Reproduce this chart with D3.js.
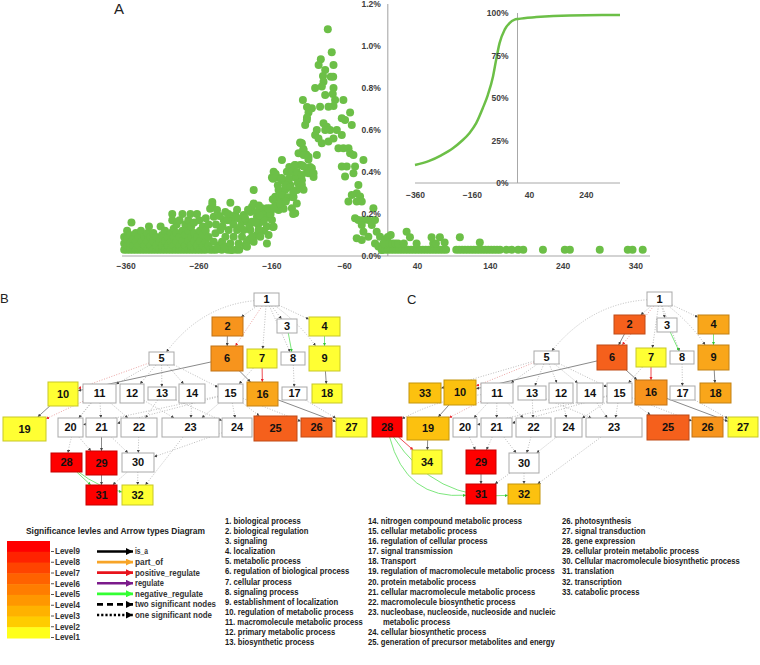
<!DOCTYPE html>
<html><head><meta charset="utf-8">
<script src="https://cdn.jsdelivr.net/npm/d3@7"></script>
<style>body{margin:0;background:#fff}svg{display:block}</style>
</head><body>
<svg id="fig" width="760" height="665"></svg>
<script>
// ---------------- DATA ----------------
const densityPoints = [
[-362,0.03],[-362,0.06],[-362,0.09],[-358,0.03],[-358,0.05],[-358,0.08],[-358,0.12],[-354,0.03],[-354,0.06],[-354,0.10],[-352,0.16],[-350,0.03],[-350,0.05],[-350,0.08],[-346,0.03],[-346,0.07],[-346,0.11],[-342,0.03],[-342,0.05],[-342,0.09],[-339,0.12],[-338,0.03],[-338,0.07],[-334,0.03],[-334,0.05],[-334,0.09],[-330,0.03],[-330,0.07],[-330,0.11],[-328,0.14],[-326,0.03],[-326,0.05],[-326,0.09],[-322,0.03],[-322,0.07],[-322,0.11],[-318,0.03],[-318,0.05],[-318,0.09],[-314,0.03],[-314,0.07],[-312,0.14],[-310,0.03],[-310,0.05],[-310,0.10],[-306,0.03],[-306,0.07],[-306,0.12],[-302,0.03],[-302,0.05],[-302,0.09],[-298,0.03],[-298,0.07],[-298,0.11],[-296,0.17],[-296,0.20],[-294,0.03],[-294,0.05],[-294,0.09],[-294,0.13],[-290,0.03],[-290,0.07],[-290,0.11],[-290,0.15],[-286,0.03],[-286,0.05],[-286,0.09],[-286,0.17],[-282,0.03],[-282,0.07],[-282,0.12],[-282,0.20],[-278,0.03],[-278,0.05],[-278,0.10],[-278,0.15],[-274,0.03],[-274,0.07],[-274,0.12],[-274,0.17],[-271,0.20],[-270,0.03],[-270,0.05],[-270,0.09],[-270,0.14],[-266,0.03],[-266,0.07],[-266,0.11],[-266,0.16],[-262,0.03],[-262,0.05],[-262,0.09],[-262,0.20],[-259,0.17],[-258,0.03],[-258,0.07],[-258,0.12],[-254,0.03],[-254,0.05],[-254,0.10],[-254,0.14],[-250,0.03],[-250,0.07],[-250,0.12],[-250,0.18],[-246,0.05],[-246,0.09],[-246,0.15],[-244,0.225],[-241,0.257],[-241,0.243],[-244,0.03],[-240,0.03],[-236,0.03],[-232,0.05],[-228,0.03],[-220,0.03],[-216,0.03],[-208,0.03],[-204,0.03],[-196,0.05],[-190,0.08],[-180,0.10],[-178,0.15],[-175,0.19],[-170,0.217],[-170,0.12],
[-239,0.187],[-239,0.068],[-236.7,0.108],[-234.5,0.219],[-234.5,0.036],[-229.9,0.124],[-227.6,0.068],[-225.3,0.171],[-223.1,0.21],[-223,0.092],[-223,0.044],[-218.5,0.124],[-216.2,0.254],[-216.2,0.06],[-214,0.171],[-213.9,0.028],[-211.7,0.092],[-209.4,0.195],[-207,0.124],[-204.8,0.179],[-204.8,0.06],[-200.2,0.163],[-200.2,0.092],[-198,0.195],[-198,0.124],[-193.4,0.163],[-193.4,0.068],[-193.4,0.044],[-188.8,0.21],[-188.8,0.124],[-186.5,0.235],[-186.5,0.163],[-186.5,0.092],[-184.2,0.314],[-184.2,0.25],[-184.2,0.068],[-179.7,0.187],[-177.4,0.124],[-175.1,0.092],[-172.8,0.227],[-172.8,0.163],[-168.3,0.203],[-166,0.227],[-166,0.06],[-163.7,0.187],[-163.7,0.1],[-161.4,0.227],[-159.1,0.374],[-159.1,0.171],[-156.8,0.401],[-156.8,0.139],[-154.6,0.282],[-154.6,0.243],[-152.3,0.374],[-150,0.314],[-150,0.219],[-147.7,0.258],[-145.4,0.457],[-145.4,0.361],[-145.4,0.282],[-141,0.314],[-138.6,0.401],[-136.3,0.361],[-134,0.338],[-131.7,0.409],[-131.7,0.227],[-129.5,0.282],[-127.2,0.433],[-127.2,0.374],[-127.2,0.203],[-124.9,0.314],[-122.6,0.489],[-120.3,0.541],[-120.3,0.433],[-118,0.361],[-157.7,0.138],[-152,0.28],[-145,0.29],[-143,0.225],[-137,0.28],[-130,0.28],[-130,0.2],
[-236,0.15],[-231,0.19],[-227,0.14],[-220,0.17],[-219,0.2],[-212,0.15],[-207,0.22],[-202,0.14],[-196,0.18],[-192,0.22],[-190,0.14],[-182,0.16],[-180,0.21],[-177,0.24],[-170,0.17],[-166,0.14],[-161,0.2],[-158,0.27],[-154,0.39],[-157.7,0.368],[-146,0.371],[-135.3,0.424],[-128,0.432],[-118,0.432],[-131.7,0.4],[-124.8,0.4],[-136,0.368],[-123.5,0.348],[-151,0.337],[-140.4,0.337],[-134,0.329],[-120,0.329],[-130,0.305],[-163.7,0.225],[-156,0.225],[-176,0.194],[-120,0.538],[-116,0.51],[-112,0.483],[-109,0.459],[-106.6,0.424],[-111,0.4],[-102,0.376],[-148,0.25],[-140,0.26],[-125,0.25],
[-82.4,1.08],[-77,0.97],[-74.6,0.91],[-92,0.937],[-95,0.91],[-86,0.886],[-89,0.857],[-75,0.854],[-78.3,0.854],[-88.3,0.83],[-90.6,0.807],[-99.8,0.8],[-74.6,0.8],[-75.6,0.772],[-86,0.767],[-72.4,0.743],[-61,0.743],[-116.6,0.743],[-93,0.711],[-74.6,0.714],[-81.5,0.711],[-104.3,0.703],[-108.9,0.683],[-51.8,0.683],[-111.2,0.648],[-113.5,0.624],[-63.2,0.656],[-58.7,0.648],[-49.5,0.624],[-88.3,0.632],[-83.8,0.616],[-79.2,0.6],[-86,0.6],[-97.5,0.6],[-70,0.6],[-63.2,0.576],[-99.8,0.576],[-95.2,0.56],[-74.6,0.56],[-81.5,0.545],[-90.6,0.537],[-67.8,0.513],[-61,0.513],[-54,0.513],[-51.8,0.489],[-47.2,0.481],[-118,0.537],[-115.7,0.505],[-115.7,0.481],[-108.9,0.473],[-97.5,0.481],[-33.5,0.457],[-63.2,0.426],[-56.4,0.426],[-45,0.426],[-47.2,0.394],[-58.7,0.378],[-104.3,0.418],[-115.7,0.426],[-108.9,0.394],[-102,0.394],[-118,0.386],[-118,0.338],[-115.7,0.315],[-40.4,0.338],[-42.7,0.299],[-49.5,0.291],[-38.1,0.283],[-54.1,0.259],[-42.7,0.259],[-35.8,0.259],[-19.8,0.227],[-45,0.18],[-40.4,0.172],[-33.5,0.172],[-26.7,0.172],[-35.8,0.148],[-33.5,0.116],[-26.7,0.092],[-42.7,0.084],[-35.8,0.076],[-15.3,0.116],[-10.7,0.092],[-17.6,0.06],[-13,0.045],[-3.9,0.076],[0.7,0.06],[7.5,0.045],[-8.4,0.029],[-22,0.148],[-17.6,0.172],[-111,0.71],[-111,0.66],
[-8,0.03],[-4,0.03],[0,0.03],[4,0.03],[8,0.03],[12,0.03],[16,0.03],[20,0.03],[24,0.03],[28,0.03],[32,0.03],[36,0.03],[40,0.03],[44,0.03],[48,0.03],[52,0.03],[56,0.03],[60,0.03],[64,0.03],[68,0.03],[72,0.03],[76,0.03],[80,0.03],
[-6,0.06],[2,0.06],[6,0.06],[10,0.06],[14,0.06],[22,0.06],[39.5,0.06],[62.4,0.06],[66,0.06],[78,0.064],[0,0.09],[4,0.1],[25.8,0.116],[30.4,0.089],[60.1,0.089],[71.5,0.089],[98.9,0.089],[126.3,0.064],
[94,0.03],[98,0.03],[102,0.03],[106,0.03],[110,0.03],[114,0.03],[118,0.03],[122,0.03],[126,0.03],[130,0.03],[134,0.03],[138,0.03],[142,0.03],[146,0.03],[150,0.03],[154,0.03],
[163,0.03],[170,0.03],[179,0.03],[186,0.03],[213,0.03],[243,0.03],[250,0.03],[291,0.03],[329.5,0.03],[336,0.03],[350,0.03]
];
const cumulativeCurve = [[-360,10.6],[-310,13],[-268,16.3],[-227,20.4],[-198,24.4],[-169,29.3],[-145,35.2],[-122,44],[-104,51.9],[-86,62.7],[-75,72.5],[-63,82.3],[-45,90.2],[-28,94.1],[-10,96.1],[2,96.5],[66,97.6],[183,98.6],[360,98.8]];
const mainXTicks = [-360,-260,-160,-60,40,140,240,340];
const mainYTicks = [0,0.2,0.4,0.6,0.8,1.0,1.2];
const insetXTicks = [-360,-160,40,240];
const insetYTicks = [0,25,50,75,100];

const levelNames = ["Level9","Level8","Level7","Level6","Level5","Level4","Level3","Level2","Level1"];
const arrowTypes = ["is_a","part_of","positive_regulate","regulate","negative_regulate","two significant nodes","one significant node"];
const termNames = ["biological process","biological regulation","signaling","localization","metabolic process","regulation of biological process","cellular process","signaling process","establishment of localization","regulation of metabolic process","macromolecule metabolic process","primary metabolic process","biosynthetic process","nitrogen compound metabolic process","cellular metabolic process","regulation of  cellular process","signal transmission","Transport","regulation of macromolecule metabolic process","protein metabolic process","cellular macromolecule metabolic process","macromolecule biosynthetic process","nucleobase, nucleoside, nucleoside and nucleic metabolic process","cellular biosynthetic process","generation of precursor metabolites and energy","photosynthesis","signal transduction","gene expression","cellular protein metabolic process","Cellular macromolecule biosynthetic process","translation","transcription","catabolic process"];

// significance level of each GO term (0 = not significant)
const levelsB = {1:0,2:5,3:0,4:1,5:0,6:5,7:1,8:0,9:1,10:1,11:0,12:0,13:0,14:0,15:0,16:4,17:0,18:1,19:1,20:0,21:0,22:0,23:0,24:0,25:7,26:7,27:1,28:9,29:9,30:0,31:9,32:1};
const levelsC = {1:0,2:7,3:0,4:4,5:0,6:7,7:1,8:0,9:4,10:3,11:0,12:0,13:0,14:0,15:0,16:5,17:0,18:4,19:3,20:0,21:0,22:0,23:0,24:0,25:7,26:5,27:1,28:9,29:9,30:0,31:9,32:3,33:3,34:1};

// edges: [from, to, relation]
const edgesB = [[1,2,"dot"],[1,5,"dot"],[1,6,"dotRed"],[1,7,"dot"],[1,3,"dot"],[1,8,"dot"],[1,9,"dot"],[1,4,"dot"],[2,6,"solid"],[3,8,"green"],[4,9,"green"],[5,10,"dotRed"],[6,10,"solid"],[5,11,"dot"],[5,12,"dot"],[5,13,"dot"],[5,14,"dot"],[5,15,"dot"],[6,16,"solid"],[7,16,"red"],[7,15,"dot"],[8,17,"dot"],[9,18,"solid"],[10,19,"solid"],[11,19,"dotRed"],[11,20,"dot"],[11,21,"dot"],[11,22,"dot"],[11,28,"dot"],[12,23,"dot"],[13,22,"dot"],[13,24,"dot"],[14,23,"dot"],[15,20,"dot"],[15,21,"dot"],[15,23,"dot"],[15,24,"dot"],[15,25,"dot"],[15,26,"dot"],[16,27,"solid"],[17,27,"dot"],[20,29,"dot"],[21,29,"solid"],[21,30,"dot"],[22,30,"dot"],[24,30,"dot"],[23,32,"dot"],[28,31,"green"],[28,32,"green"],[29,31,"solid"],[30,31,"dot"],[30,32,"dot"]];
const edgesC = [[1,2,"dot"],[1,5,"dot"],[1,6,"dotRed"],[1,3,"dot"],[1,7,"dot"],[1,8,"dot"],[1,9,"dot"],[1,4,"dot"],[2,6,"solid"],[3,8,"green"],[4,9,"green"],[5,33,"dot"],[5,10,"dotRed"],[6,10,"solid"],[5,11,"dot"],[5,13,"dot"],[5,12,"dot"],[5,14,"dot"],[5,15,"dot"],[6,16,"solid"],[7,16,"red"],[7,15,"dot"],[8,17,"dot"],[9,18,"solid"],[10,19,"solid"],[11,19,"dotRed"],[11,28,"dot"],[11,20,"dot"],[11,21,"dot"],[11,22,"dot"],[13,22,"dot"],[13,23,"dot"],[12,24,"dot"],[14,23,"dot"],[15,20,"dot"],[15,21,"dot"],[15,24,"dot"],[15,23,"dot"],[15,25,"dot"],[15,26,"dot"],[16,27,"solid"],[17,27,"dot"],[19,34,"solid"],[28,34,"red"],[20,29,"dot"],[21,29,"dot"],[21,30,"dot"],[22,30,"dot"],[24,30,"dot"],[23,32,"dot"],[28,31,"green"],[28,32,"green"],[29,31,"solid"],[30,31,"dot"],[30,32,"dot"]];

// ---------------- LAYOUT (diagram geometry) ----------------
const boxesB = [[1,254,293,279,306],[2,212,317,243,336],[3,277,319,297,333],[4,309,317,340,336],[5,149,352,174,365],[6,211,346,243,371],[7,247,349,277,368],[8,281,352,305,365],[9,309,346,340,371],[10,48,382,78,406],[11,83,384,116,403],[12,120,384,144,403],[13,148,387,176,400],[14,179,384,205,403],[15,218,384,243,403],[16,247,382,278,406],[17,282,387,307,400],[18,312,384,342,403],[19,3,417,46,441],[20,58,418,83,437],[21,86,418,117,437],[22,121,418,157,437],[23,162,418,219,437],[24,222,418,252,437],[25,254,416,297,441],[26,301,418,332,437],[27,336,418,367,437],[28,51,453,82,472],[29,86,451,117,475],[30,122,453,154,472],[31,86,485,117,505],[32,122,485,153,505]];
const boxesC = [[1,647,292,672,306],[2,614,315,645,334],[3,657,318,677,332],[4,698,315,729,334],[5,534,351,559,364],[6,597,345,627,370],[7,636,348,666,367],[8,670,351,694,364],[9,698,345,729,370],[33,409,383,441,403],[10,444,380,476,405],[11,481,383,513,403],[13,518,386,546,400],[12,549,383,573,403],[14,577,383,603,403],[15,607,383,632,403],[16,635,380,667,405],[17,670,386,695,400],[18,700,383,731,403],[28,372,417,402,437],[19,407,417,449,440],[20,453,418,477,437],[21,481,418,512,437],[22,516,418,551,437],[24,555,418,582,437],[23,586,418,642,437],[25,647,415,689,440],[26,692,417,723,437],[27,728,417,758,437],[34,412,450,442,474],[29,466,450,496,474],[30,509,453,539,473],[31,466,484,496,504],[32,508,484,540,504]];
const bendB = {"1-5":0.22,"11-28":0.15,"1-9":-0.08,"28-32":0.12};
const bendC = {"1-5":0.22,"11-28":0.1,"28-31":0.42,"28-32":0.3,"1-9":-0.08};

// ---------------- STYLE ----------------
const GREEN = "#6cbf47";
const levelColors = {9:"#fe0000",8:"#fb2d0f",7:"#f5601c",6:"#f6791f",5:"#f7941d",4:"#f9a61a",3:"#fcc10f",2:"#fdd60c",1:"#ffff33"};
const legendBand = ["#ff0000","#ff2300","#ff4400","#ff6200","#ff7d00","#ff9700","#ffb200","#ffcc00","#ffff1a"];
const arrowColors = ["#000000","#f7a427","#e8141c","#7b1a8b","#33ff33","#000000","#000000"];
const edgeStyle = {
  dot:{stroke:"#b4b4b4",dash:"1,1.6",w:0.9,m:"mDark"},
  dotRed:{stroke:"#e99a9a",dash:"1,1.6",w:0.9,m:"mRed"},
  solid:{stroke:"#8a8a8a",dash:null,w:1,m:"mDark"},
  red:{stroke:"#ee4a50",dash:null,w:1,m:"mRed"},
  green:{stroke:"#6ee36e",dash:null,w:0.9,m:"mGreen"}
};
const FONT = "Liberation Sans, Arial, sans-serif";

// ---------------- DRAW ----------------
const svg = d3.select("#fig");
const defs = svg.append("defs");
[["mDark","#444"],["mRed","#e8262d"],["mGreen","#33c433"],["mLeg0","#000"],["mLeg1","#f7a427"],["mLeg2","#e8141c"],["mLeg3","#7b1a8b"],["mLeg4","#33ff33"]].forEach(([id,c])=>{
  const small = !id.startsWith("mLeg");
  const s = small ? 3.2 : 7;
  defs.append("marker").attr("id",id).attr("viewBox","0 0 10 10").attr("refX",10).attr("refY",5)
    .attr("markerWidth",s).attr("markerHeight",s).attr("markerUnits","userSpaceOnUse").attr("orient","auto")
    .append("path").attr("d","M0,0L10,5L0,10z").attr("fill",c);
});

// ---- Panel A: scatter ----
const x = d3.scaleLinear([-365,360],[122,650]);
const y = d3.scaleLinear([0,1.2],[256,4]);
const gA = svg.append("g");
gA.append("line").attr("x1",122).attr("x2",650).attr("y1",y(0)).attr("y2",y(0)).attr("stroke","#c4c4c4").attr("stroke-width",1.5);
gA.append("line").attr("x1",x(0)).attr("x2",x(0)).attr("y1",y(1.2)).attr("y2",y(0)).attr("stroke","#a0a0a0").attr("stroke-width",1);
gA.append("g").selectAll("circle").data(densityPoints).join("circle")
  .attr("cx",d=>x(d[0])).attr("cy",d=>y(d[1])).attr("r",4).attr("fill",GREEN);
const ax = gA.append("g").attr("transform",`translate(0,${y(0)})`)
  .call(d3.axisBottom(x).tickValues(mainXTicks).tickSize(0).tickPadding(7).tickFormat(d3.format("d")));
const ay = gA.append("g").attr("transform",`translate(${x(0)},0)`)
  .call(d3.axisLeft(y).tickValues(mainYTicks).tickSize(0).tickPadding(7).tickFormat(d=>d.toFixed(1)+"%"));
[ax,ay].forEach(a=>{a.select(".domain").remove();a.selectAll("text").attr("font-family",FONT).attr("font-size",8.5).attr("font-weight","bold").attr("fill","#404040");});

// inset cumulative
const xi = d3.scaleLinear([-360,360],[415,620]);
const yi = d3.scaleLinear([0,100],[183,13]);
gA.append("line").attr("x1",xi(-360)).attr("x2",xi(360)).attr("y1",yi(0)).attr("y2",yi(0)).attr("stroke","#a8a8a8");
gA.append("line").attr("x1",xi(0)).attr("x2",xi(0)).attr("y1",yi(100)).attr("y2",yi(0)).attr("stroke","#a8a8a8");
gA.append("path").datum(cumulativeCurve).attr("fill","none").attr("stroke",GREEN).attr("stroke-width",2.5)
  .attr("d",d3.line().x(d=>xi(d[0])).y(d=>yi(d[1])).curve(d3.curveMonotoneX));
const aix = gA.append("g").attr("transform",`translate(0,${yi(0)})`)
  .call(d3.axisBottom(xi).tickValues(insetXTicks).tickSize(0).tickPadding(9).tickFormat(d3.format("d")));
const aiy = gA.append("g").attr("transform",`translate(${xi(0)},0)`)
  .call(d3.axisLeft(yi).tickValues(insetYTicks).tickSize(0).tickPadding(9).tickFormat(d=>d+"%"));
[aix,aiy].forEach(a=>{a.select(".domain").remove();a.selectAll("text").attr("font-family",FONT).attr("font-size",8.5).attr("font-weight","bold").attr("fill","#404040");});

svg.append("text").attr("x",114).attr("y",14).text("A").attr("font-family",FONT).attr("font-size",15).attr("fill","#222");
svg.append("text").attr("x",0).attr("y",303).text("B").attr("font-family",FONT).attr("font-size",13).attr("fill","#222");
svg.append("text").attr("x",407).attr("y",304).text("C").attr("font-family",FONT).attr("font-size",13).attr("fill","#222");

// ---- Panels B & C: GO graphs ----
function clip(cx,cy,tx,ty,b){
  const dx=tx-cx, dy=ty-cy, hw=(b[3]-b[1])/2, hh=(b[4]-b[2])/2;
  const t=Math.min(dx?hw/Math.abs(dx):Infinity, dy?hh/Math.abs(dy):Infinity);
  return [cx+dx*t, cy+dy*t];
}
function drawGraph(boxes, edges, levels, bends){
  const g = svg.append("g");
  const map = new Map(boxes.map(b=>[b[0],b]));
  const ctr = b=>[(b[1]+b[3])/2,(b[2]+b[4])/2];
  const eg = g.append("g");
  edges.forEach(([s,t,type])=>{
    const bs=map.get(s), bt=map.get(t); const [sx,sy]=ctr(bs), [tx,ty]=ctr(bt);
    const bend = bends[s+"-"+t]||0;
    const dx=tx-sx, dy=ty-sy;
    const qx=(sx+tx)/2 - dy*bend, qy=(sy+ty)/2 + dx*bend;
    const p0 = clip(sx,sy,bend?qx:tx,bend?qy:ty,bs);
    const p1 = clip(tx,ty,bend?qx:sx,bend?qy:sy,bt);
    const st = edgeStyle[type];
    const path = d3.path(); path.moveTo(p0[0],p0[1]);
    if(bend) path.quadraticCurveTo(qx,qy,p1[0],p1[1]); else path.lineTo(p1[0],p1[1]);
    eg.append("path").attr("d",path.toString()).attr("fill","none").attr("stroke",st.stroke)
      .attr("stroke-width",st.w).attr("stroke-dasharray",st.dash).attr("marker-end",`url(#${st.m})`);
  });
  const ng = g.append("g").selectAll("g").data(boxes).join("g");
  ng.append("rect").attr("x",d=>d[1]).attr("y",d=>d[2]).attr("width",d=>d[3]-d[1]).attr("height",d=>d[4]-d[2])
    .attr("fill",d=>levels[d[0]]?levelColors[levels[d[0]]]:"#fff")
    .attr("stroke",d=>levels[d[0]]?d3.color(levelColors[levels[d[0]]]).darker(0.7):"#a9a9a9").attr("stroke-width",1);
  ng.append("text").attr("x",d=>(d[1]+d[3])/2).attr("y",d=>(d[2]+d[4])/2).attr("dy","0.36em").attr("text-anchor","middle")
    .attr("font-family",FONT).attr("font-weight","bold").attr("font-size",11).attr("fill","#111").text(d=>d[0]);
}
drawGraph(boxesB, edgesB, levelsB, bendB);
drawGraph(boxesC, edgesC, levelsC, bendC);

// ---- Legend ----
const gL = svg.append("g");
gL.append("text").attr("x",26).attr("y",534).attr("font-family",FONT).attr("font-weight","bold").attr("font-size",9.5)
  .attr("textLength",179).attr("lengthAdjust","spacingAndGlyphs").attr("fill","#222").text("Significance levles and Arrow types Diagram");
const band = d3.scaleBand(levelNames,[541,638]);
gL.selectAll("rect.band").data(levelNames).join("rect").attr("class","band")
  .attr("x",7).attr("width",43).attr("y",d=>band(d)).attr("height",band.bandwidth()+0.5).attr("fill",(d,i)=>legendBand[i]);
const lvlY = d3.scalePoint(levelNames,[551.5,637.5]);
const lvl = gL.append("g");
levelNames.forEach(n=>{
  lvl.append("line").attr("x1",51).attr("x2",54).attr("y1",lvlY(n)).attr("y2",lvlY(n)).attr("stroke","#555");
  lvl.append("text").attr("x",55).attr("y",lvlY(n)).attr("dy","0.35em").attr("font-family",FONT).attr("font-weight","bold")
    .attr("font-size",8.5).attr("fill","#333").attr("textLength",25).attr("lengthAdjust","spacingAndGlyphs").text(n);
});
const arrY = d3.scalePoint(arrowTypes,[551.5,615]);
const arrW = [13,28,65,29,68,81,77];
arrowTypes.forEach((n,i)=>{
  const yy = arrY(n);
  gL.append("line").attr("x1",97).attr("x2",133).attr("y1",yy).attr("y2",yy).attr("stroke",arrowColors[i])
    .attr("stroke-width",2.6).attr("stroke-dasharray",i===5?"6,4":i===6?"2.2,2":null).attr("marker-end",`url(#mLeg${i<=4?i:0})`);
  gL.append("text").attr("x",135).attr("y",yy).attr("dy","0.35em").attr("font-family",FONT).attr("font-weight","bold")
    .attr("font-size",8.5).attr("fill","#333").attr("textLength",arrW[i]).attr("lengthAdjust","spacingAndGlyphs").text(n);
});

// ---- Term list ----
const lineY = i=>524 + i*10.1;
const cols = [{x:225,from:1,to:13},{x:368,from:14,to:25},{x:562,from:26,to:33}];
const colGroups = cols.map(c=>{
  const outer = svg.append("g").attr("transform",`translate(${c.x},0)`);
  const inner = outer.append("g");
  let line=0;
  for(let k=c.from;k<=c.to;k++){
    let name = termNames[k-1];
    if(k===23){
      const cut = name.indexOf(" metabolic process");
      inner.append("text").attr("x",0).attr("y",lineY(line++)).text(k+". "+name.slice(0,cut));
      inner.append("text").attr("x",15/0.8).attr("y",lineY(line++)).attr("class","cont").text(name.slice(cut+1));
    } else {
      inner.append("text").attr("x",0).attr("y",lineY(line++)).attr("class",k===19?"ref":null).text(k+". "+name);
    }
  }
  inner.selectAll("text").attr("font-family",FONT).attr("font-size",9.6).attr("fill","#1a1a1a").attr("font-weight","bold");
  return inner;
});
const refW = colGroups[1].select("text.ref").node().getComputedTextLength();
const sx = 187/refW;
colGroups.forEach(g=>{
  g.attr("transform",`scale(${sx},1)`);
  g.selectAll("text.cont").attr("x",15/sx);
});
</script>
</body></html>
